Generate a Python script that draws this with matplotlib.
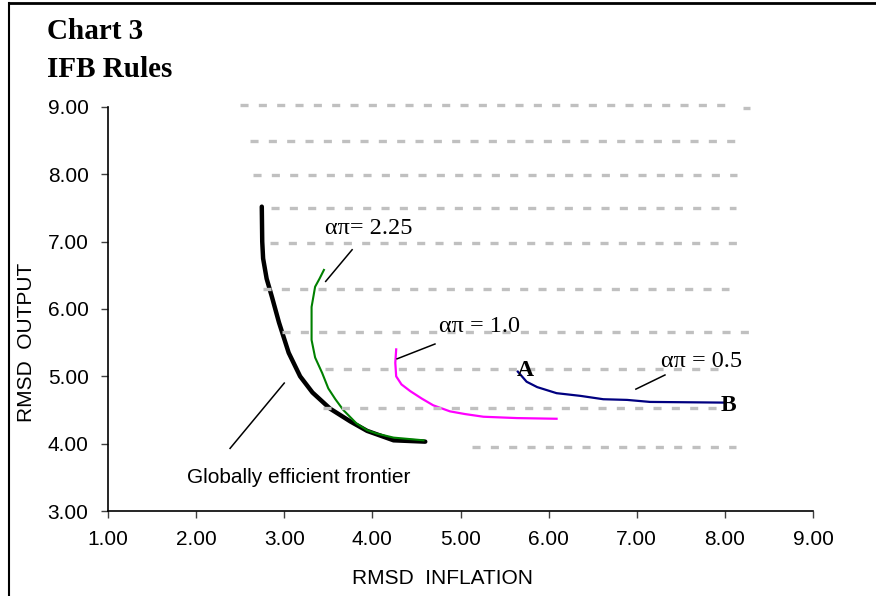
# -----------------------------
# SETUP
# -----------------------------
import matplotlib.pyplot as plt
from matplotlib.lines import Line2D

plt.rcParams['font.family'] = ['Liberation Sans', 'DejaVu Sans']
plt.rcParams['lines.scale_dashes'] = False

# -----------------------------
# DATA
# -----------------------------
# globally efficient frontier (thick black)
frontier_x = [2.745, 2.75, 2.76, 2.80, 2.86, 2.94, 3.05, 3.18, 3.32, 3.52, 3.75, 3.94, 4.24, 4.60]
frontier_y = [7.52, 7.00, 6.75, 6.45, 6.18, 5.80, 5.35, 5.00, 4.76, 4.52, 4.33, 4.19, 4.05, 4.03]

# alpha_pi = 2.25 (green)
a225_x = [3.45, 3.40, 3.35, 3.31, 3.31, 3.35, 3.43, 3.50, 3.58, 3.67, 3.82, 3.94, 4.05, 4.24, 4.58]
a225_y = [6.58, 6.45, 6.33, 6.03, 5.54, 5.28, 5.05, 4.82, 4.66, 4.50, 4.30, 4.20, 4.15, 4.09, 4.05]

# alpha_pi = 1.0 (magenta)
a10_x = [4.27, 4.26, 4.27, 4.33, 4.43, 4.56, 4.69, 4.88, 5.05, 5.26, 5.64, 6.09]
a10_y = [5.40, 5.20, 5.00, 4.88, 4.78, 4.67, 4.57, 4.48, 4.44, 4.40, 4.38, 4.37]

# alpha_pi = 0.5 (navy), from A to B
a05_x = [5.65, 5.75, 5.87, 6.09, 6.36, 6.62, 6.89, 7.15, 7.98]
a05_y = [5.07, 4.92, 4.84, 4.75, 4.71, 4.66, 4.65, 4.62, 4.61]

# grey dashed guide lines (level, start, end)
guide_y = [9.03, 8.985, 8.50, 7.99, 7.50, 6.98, 6.30, 5.66, 5.11, 4.53, 3.95]
guide_x0 = [2.50, 8.21, 2.61, 2.65, 2.85, 2.84, 2.76, 2.98, 3.46, 3.44, 5.13]
guide_x1 = [8.00, 8.29, 8.11, 8.14, 8.13, 8.14, 8.05, 8.29, 7.92, 7.95, 8.13]

x_ticks = [1, 2, 3, 4, 5, 6, 7, 8, 9]
y_ticks = [3, 4, 5, 6, 7, 8, 9]

# curve labels: text, text position, leader line (start, end)
label_text = ["απ= 2.25", "απ = 1.0", "απ = 0.5"]
label_pos = [(3.96, 7.12), (5.22, 5.66), (7.74, 5.14)]
leader_from = [(3.77, 6.88), (4.71, 5.48), (7.32, 5.02)]
leader_to = [(3.47, 6.41), (4.28, 5.26), (6.99, 4.81)]

# -----------------------------
# PLOT
# -----------------------------
fig = plt.figure(figsize=(8.76, 5.96), dpi=100)
ax = fig.add_axes([0.1233, 0.1426, 0.8048, 0.6779])

ax.plot(frontier_x, frontier_y, color="black", lw=3.2, solid_capstyle="round", zorder=3)
ax.plot(a225_x, a225_y, color="#008000", lw=1.5, zorder=4)
ax.plot(a10_x, a10_y, color="#FF00FF", lw=1.6, zorder=4)
ax.plot(a05_x, a05_y, color="#000080", lw=1.6, zorder=4)

ax.hlines(guide_y, guide_x0, guide_x1, colors="#c0c0c0", lw=2.4,
          linestyles=[(0, (5.8, 7.4))], zorder=5, clip_on=False)

# leader lines + labels
for txt, pos, p0, p1 in zip(label_text, label_pos, leader_from, leader_to):
    ax.plot([p0[0], p1[0]], [p0[1], p1[1]], color="black", lw=1.1, zorder=6)
    ax.text(pos[0], pos[1], txt, family="Liberation Serif", fontsize=17.5,
            ha="center", va="baseline", zorder=6)

ax.plot([3.00, 2.385], [4.90, 3.93], color="black", lw=1.1, zorder=6)
ax.text(1.893, 3.42, "Globally efficient frontier", fontsize=15, ha="left", va="baseline")

ax.text(5.73, 5.005, "A", family="Liberation Serif", weight="bold", fontsize=17,
        ha="center", va="baseline", zorder=6)
ax.text(8.04, 4.49, "B", family="Liberation Serif", weight="bold", fontsize=17,
        ha="center", va="baseline", zorder=6)

# axes
ax.set_xlim(1, 9)
ax.set_ylim(3, 9)
ax.set_xticks(x_ticks)
ax.set_yticks(y_ticks)
ax.set_xticklabels([f"{v:.2f}" for v in x_ticks])
ax.set_yticklabels([f"{v:.2f}" for v in y_ticks])
ax.tick_params(axis="both", direction="out", length=5, width=1, labelsize=15, pad=9,
               color="#404040")
for s in ["top", "right"]:
    ax.spines[s].set_visible(False)
for s in ["left", "bottom"]:
    ax.spines[s].set_linewidth(1.2)

ax.set_xlabel("RMSD  INFLATION", fontsize=15, va="center")
ax.xaxis.set_label_coords(0.474, -0.166)
ax.set_ylabel("RMSD  OUTPUT", fontsize=15, va="center")
ax.yaxis.set_label_coords(-0.1163, 0.418)

# title
fig.text(0.0537, 0.9346, "Chart 3", family="Liberation Serif", weight="bold",
         fontsize=21, va="baseline")
fig.text(0.0537, 0.8708, "IFB Rules", family="Liberation Serif", weight="bold",
         fontsize=21, va="baseline")

# outer frame (left and top edges)
fig.add_artist(Line2D([0.0103, 0.0103], [0.995, 0.0], color="black", lw=1.5))
fig.add_artist(Line2D([0.0103, 1.0], [0.995, 0.995], color="black", lw=2))

fig.savefig("out.png", dpi=100)
